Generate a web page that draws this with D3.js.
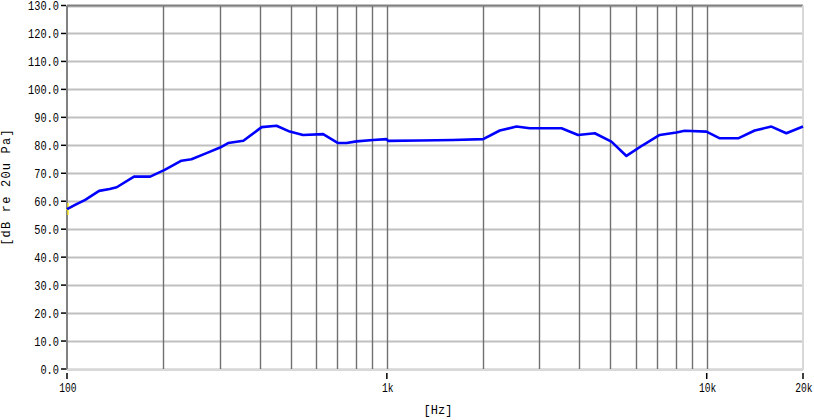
<!DOCTYPE html>
<html><head><meta charset="utf-8">
<script src="https://cdn.jsdelivr.net/npm/d3@7"></script>
<style>body{margin:0;background:#fff}svg text{font-family:"Liberation Mono","DejaVu Sans Mono",monospace;font-size:12px;fill:#000}</style>
</head><body><svg id="c" width="814" height="420"></svg>
<script>
const freqs = [100,106,114,126,136,143,162,182,202,228,245,273,301,319,356,406,452,497,547,632,704,748,804,906,998,1009,1267,1611,2000,2255,2543,2798,3516,3961,4467,5035,5610,6323,7129,8037,8531,9980,10990,12540,14125,15930,17740,20000];
const levels = [57.2,58.7,60.5,63.7,64.4,65.0,68.8,68.8,71.2,74.5,75.0,77.2,79.2,80.8,81.6,86.5,87.0,84.9,83.7,84.0,80.8,80.8,81.4,81.9,82.2,81.6,81.7,81.9,82.2,85.3,86.7,86.1,86.1,83.7,84.3,81.3,76.2,80.1,83.7,84.6,85.2,84.9,82.5,82.5,85.3,86.7,84.3,86.7];
const yTicks = [0,10,20,30,40,50,60,70,80,90,100,110,120,130];
const xGridFreqs = [200,300,400,500,600,700,800,900,1000,2000,3000,4000,5000,6000,7000,8000,9000,10000];
const xTickFreqs = [100,1000,10000,20000];
const xTickLabels = ["100","1k","10k","20k"];

const svg = d3.select("#c");
const L=67, R=803, T=5.5, B=369;
const x = d3.scaleLog().domain([100,20000]).range([L,R]);
const y = d3.scaleLinear().domain([0,130]).range([B,T]);

// horizontal grid
svg.append("g").selectAll("line").data(yTicks).join("line")
  .attr("x1",L).attr("x2",R).attr("y1",d=>Math.round(y(d))+0.5).attr("y2",d=>Math.round(y(d))+0.5)
  .attr("stroke","#c0c0c0").attr("stroke-width",2);
// vertical grid
svg.append("g").selectAll("line").data(xGridFreqs).join("line")
  .attr("x1",d=>Math.round(x(d))+0.5).attr("x2",d=>Math.round(x(d))+0.5).attr("y1",T).attr("y2",B)
  .attr("stroke","#707070").attr("stroke-width",1.4);
// frame
svg.append("line").attr("x1",L).attr("x2",R).attr("y1",T).attr("y2",T).attr("stroke","#808080").attr("stroke-width",2);
svg.append("line").attr("x1",L).attr("x2",L).attr("y1",T).attr("y2",B+1).attr("stroke","#808080").attr("stroke-width",2);
svg.append("line").attr("x1",R).attr("x2",R).attr("y1",T).attr("y2",B+1).attr("stroke","#d8d8d8").attr("stroke-width",2);
svg.append("line").attr("x1",L).attr("x2",R).attr("y1",B+1).attr("y2",B+1).attr("stroke","#d8d8d8").attr("stroke-width",2);

// y ticks
const yg = svg.append("g");
yg.selectAll("line").data(yTicks).join("line")
  .attr("x1",L-6).attr("x2",L-1).attr("y1",d=>y(d)).attr("y2",d=>y(d)).attr("stroke","#000").attr("stroke-width",1.5);
yg.selectAll("text").data(yTicks).join("text")
  .attr("transform",d=>`translate(${L-8},${y(d)+4.5}) scale(0.86,1.05)`).attr("text-anchor","end")
  .text(d=>d3.format(".1f")(d));
// x ticks
const xg = svg.append("g");
xg.selectAll("line").data(xTickFreqs).join("line")
  .attr("x1",d=>x(d)).attr("x2",d=>x(d)).attr("y1",B+4).attr("y2",B+10).attr("stroke","#000").attr("stroke-width",1.5);
xg.selectAll("text").data(xTickFreqs).join("text")
  .attr("transform",d=>`translate(${x(d)+1},${B+23}) scale(0.8,1.05)`).attr("text-anchor","middle")
  .text((d,i)=>xTickLabels[i]);

svg.append("text").attr("x",(L+R)/2+3).attr("y",414).attr("text-anchor","middle").text("[Hz]");
svg.append("text").attr("transform","translate(10,"+187+") rotate(-90)").attr("text-anchor","middle")
  .attr("letter-spacing","1.2px").text("[dB re 20u Pa]");

// cursor mark
svg.append("path").attr("d",`M${x(100)+1},${y(levels[0])-6}L${x(100)+1},${y(levels[0])+6}M${x(100)-1},${y(levels[0])+1}L${x(100)+6},${y(levels[0])-2}`)
  .attr("stroke","#ffee00").attr("stroke-width",1.2).attr("fill","none");

// curve
const line = d3.line().x((d,i)=>x(freqs[i])).y(d=>y(d));
svg.append("path").datum(levels).attr("d",line).attr("fill","none").attr("stroke","#0000ff").attr("stroke-width",2.6).attr("stroke-linejoin","round");
</script></body></html>
